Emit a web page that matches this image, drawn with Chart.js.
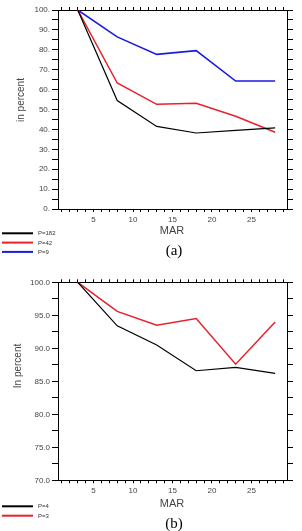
<!DOCTYPE html>
<html>
<head>
<meta charset="utf-8">
<script src="https://cdn.jsdelivr.net/npm/chart.js@4.4.0/dist/chart.umd.min.js"></script>
<style>
  html, body { margin: 0; padding: 0; background: #fff; }
  #wrap { position: relative; width: 302px; height: 531px; }
  .panel { position: absolute; left: 0; width: 302px; }
</style>
</head>
<body>
<div id="wrap">
  <div class="panel" style="top:0;height:262px"><canvas id="chartA" width="302" height="262"></canvas></div>
  <div class="panel" style="top:262px;height:269px"><canvas id="chartB" width="302" height="269"></canvas></div>
</div>
<script>
// days of March sampled
const days = [3, 8, 13, 18, 23, 28];

// panel (a)
const seriesNamesA = ["P=182", "P=42", "P=9"];
const p182 = [100, 54.5, 41.5, 38.2, 39.5, 40.8];
const p42 = [100, 63.3, 52.6, 53.1, 46.6, 38.6];
const p9 = [100, 86.5, 77.7, 79.6, 64.3, 64.3];

// panel (b)
const seriesNamesB = ["P=4", "P=3"];
const p4 = [100, 93.4, 90.5, 86.6, 87.1, 86.2];
const p3 = [100, 95.6, 93.5, 94.5, 87.6, 94.0];

// axis ticks
const xTicks = [1, 2, 3, 4, 5, 6, 7, 8, 9, 10, 11, 12, 13, 14, 15, 16, 17, 18, 19, 20, 21, 22, 23, 24, 25, 26, 27, 28, 29];
const xLabels = [5, 10, 15, 20, 25];
const yTicksA = [0, 5, 10, 15, 20, 25, 30, 35, 40, 45, 50, 55, 60, 65, 70, 75, 80, 85, 90, 95, 100];
const yLabelsA = [0, 10, 20, 30, 40, 50, 60, 70, 80, 90, 100];
const yTicksB = [70, 72.5, 75, 77.5, 80, 82.5, 85, 87.5, 90, 92.5, 95, 97.5, 100];
const yLabelsB = [70, 75, 80, 85, 90, 95, 100];

const FONT = "'Liberation Sans', Arial, sans-serif";

function setTicks(list) {
  return scale => { scale.ticks = list.map(v => ({ value: v })); };
}

function axis(pos, min, max, ticks, labelFn, size, tickLen) {
  const horiz = pos === "top" || pos === "bottom";
  return {
    type: "linear",
    position: pos,
    min: min,
    max: max,
    afterBuildTicks: setTicks(ticks),
    afterFit: s => { if (horiz) s.height = size; else s.width = size; },
    border: { display: true, color: "#000", width: 1 },
    grid: { display: true, drawOnChartArea: false, drawTicks: true, tickLength: tickLen, color: "#000", lineWidth: 1 },
    ticks: {
      display: !!labelFn,
      autoSkip: false,
      maxRotation: 0,
      padding: horiz ? 3 : 2,
      color: "#444",
      font: { family: FONT, size: 8 },
      callback: labelFn || (() => "")
    }
  };
}

const decorations = {
  id: "decorations",
  afterDraw(chart, args, o) {
    const ctx = chart.ctx;
    ctx.save();
    // y title
    ctx.fillStyle = "#444";
    ctx.font = "10px " + FONT;
    ctx.textAlign = "center";
    ctx.textBaseline = "middle";
    ctx.save();
    ctx.translate(o.yTitleX, o.yTitleY);
    ctx.rotate(-Math.PI / 2);
    ctx.fillText(o.yTitle, 0, 0);
    ctx.restore();
    // x title
    ctx.font = "11px " + FONT;
    ctx.fillText("MAR", (chart.chartArea.left + chart.chartArea.right) / 2 - 0.5, o.marY);
    // caption
    ctx.fillStyle = "#000";
    ctx.font = "15px 'Liberation Serif', 'Times New Roman', serif";
    ctx.fillText(o.caption, 174, o.capY);
    // legend
    ctx.textAlign = "left";
    ctx.font = "6px " + FONT;
    chart.data.datasets.forEach((ds, i) => {
      const y = o.legendY + i * o.legendStep;
      ctx.strokeStyle = ds.borderColor;
      ctx.lineWidth = 2;
      ctx.beginPath();
      ctx.moveTo(2, y);
      ctx.lineTo(33, y);
      ctx.stroke();
      ctx.fillStyle = "#333";
      ctx.fillText(ds.label, 38, y + 0.5);
    });
    ctx.restore();
  }
};

function line(label, data, color, width) {
  return {
    label: label,
    data: days.map((d, i) => ({ x: d, y: data[i] })),
    borderColor: color,
    borderWidth: width,
    pointRadius: 0,
    tension: 0,
    fill: false
  };
}

function makeChart(id, datasets, yMin, yMax, yTicks, yLabelFn, topH, bottomH, deco) {
  return new Chart(document.getElementById(id), {
    type: "line",
    data: { datasets: datasets },
    options: {
      responsive: false,
      animation: false,
      layout: { padding: 0 },
      plugins: { legend: { display: false }, tooltip: { enabled: false }, decorations: deco },
      scales: {
        x: axis("bottom", 0.5, 29.5, xTicks, v => xLabels.includes(v) ? String(v) : "", bottomH, 3),
        x2: axis("top", 0.5, 29.5, xTicks, null, topH, 3),
        y: axis("left", yMin, yMax, yTicks, yLabelFn, 58, 6),
        y2: axis("right", yMin, yMax, yTicks, null, 15, 6)
      }
    },
    plugins: [decorations]
  });
}

makeChart("chartA", [
  line(seriesNamesA[0], p182, "#000000", 1.2),
  line(seriesNamesA[1], p42, "#e8202a", 1.5),
  line(seriesNamesA[2], p9, "#1a1ae0", 1.6)
], 0, 100, yTicksA, v => yLabelsA.includes(v) ? v + "." : "", 10, 53, {
  yTitle: "in percent", yTitleX: 21, yTitleY: 100,
  marY: 231, caption: "(a)", capY: 251.5,
  legendY: 233.3, legendStep: 9.3
});

makeChart("chartB", [
  line(seriesNamesB[0], p4, "#000000", 1.2),
  line(seriesNamesB[1], p3, "#e8202a", 1.5)
], 70, 100, yTicksB, v => yLabelsB.includes(v) ? v.toFixed(1) : "", 20.3, 50.7, {
  yTitle: "In percent", yTitleX: 18, yTitleY: 104,
  marY: 242.3, caption: "(b)", capY: 262.5,
  legendY: 244.3, legendStep: 9.4
});
</script>
</body>
</html>
